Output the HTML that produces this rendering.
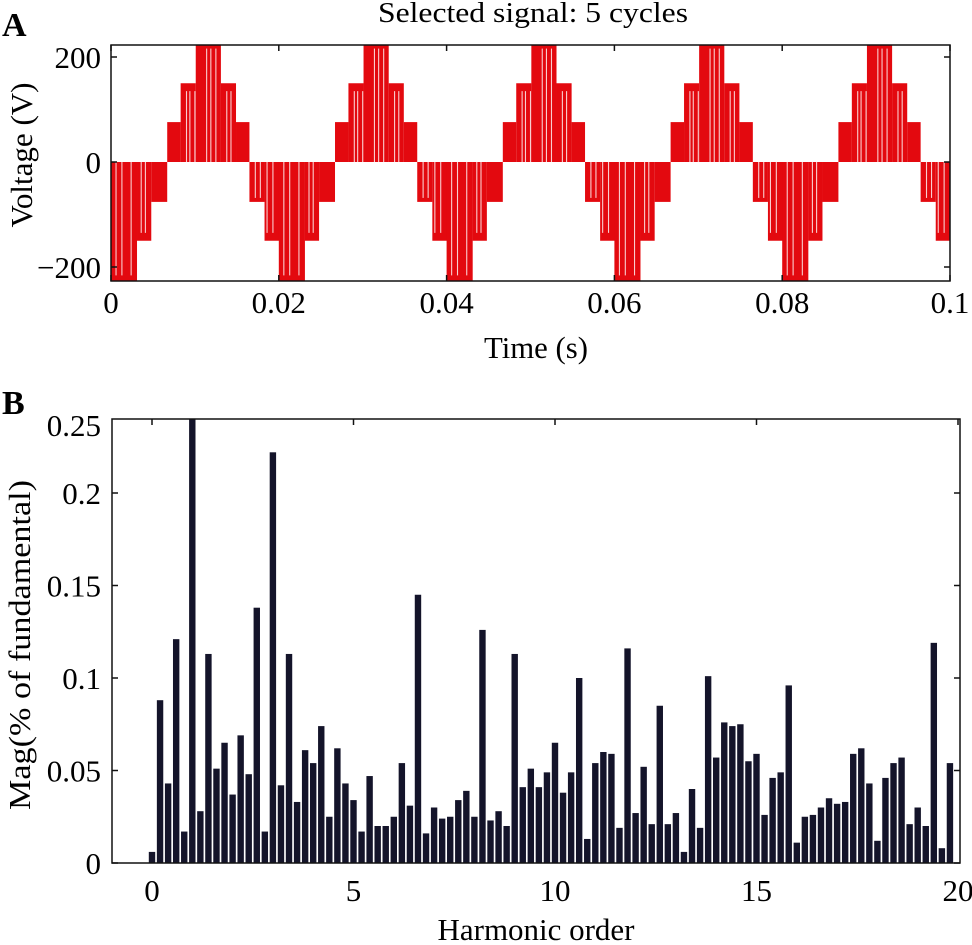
<!DOCTYPE html>
<html><head><meta charset="utf-8">
<style>
html,body{margin:0;padding:0;background:#fff;}
svg{display:block;font-family:"Liberation Serif",serif;}
</style></head>
<body>
<svg id="fig" width="972" height="945" viewBox="0 0 972 945" xmlns="http://www.w3.org/2000/svg">
  <text x="2" y="36" font-size="34" font-weight="bold">A</text>
  <text x="533" y="22" font-size="29" text-anchor="middle" textLength="310" lengthAdjust="spacingAndGlyphs">Selected signal: 5 cycles</text>
  <g id="pa"></g>
  <text x="536" y="358" font-size="31" text-anchor="middle" textLength="104" lengthAdjust="spacingAndGlyphs">Time (s)</text>
  <text transform="translate(32,155) rotate(-90)" font-size="31" text-anchor="middle" textLength="145" lengthAdjust="spacingAndGlyphs">Voltage (V)</text>

  <text x="2" y="414" font-size="34" font-weight="bold">B</text>
  <g id="pb"></g>
  <text x="536" y="940" font-size="31" text-anchor="middle" textLength="197" lengthAdjust="spacingAndGlyphs">Harmonic order</text>
  <text transform="translate(30,645) rotate(-90)" font-size="31" text-anchor="middle" textLength="330" lengthAdjust="spacingAndGlyphs">Mag(% of fundamental)</text>
</svg>
<script>
// ---------- Panel A data ----------
const cyclePeriod = 0.02;
const segStart = [0, 0.0031, 0.0048, 0.0067, 0.0083, 0.0101, 0.0131, 0.0149, 0.0165, 0.0183, 0.0202];
const segLevel = [-3, -2, -1, 1, 2, 3, 2, 1, -1, -2, -3];
const levelVolts = [0, 76, 150, 240];
const gapTimes = [0.0006, 0.0013, 0.0024, 0.0036, 0.0041, 0.0090, 0.0094, 0.0100, 0.0114, 0.0119, 0.0125, 0.0138, 0.0143, 0.0172, 0.0178, 0.0186, 0.0193, 0.0204, 0.0209, 0.0215, 0.0226, 0.0234];
const aTickX = [0, 0.02, 0.04, 0.06, 0.08, 0.1];
const aTickXLabels = ["0", "0.02", "0.04", "0.06", "0.08", "0.1"];
const aTickY = [200, 0, -200];
const aTickYLabels = ["200", "0", "\u2212200"];

// ---------- Panel B data ----------
const harmonicStep = 0.2;
const magnitudes = [0.006,0.088,0.043,0.121,0.017,0.25,0.028,0.113,0.051,0.065,
0.037,0.069,0.048,0.138,0.017,0.222,0.042,0.113,0.033,0.061,
0.054,0.074,0.025,0.062,0.043,0.034,0.017,0.047,0.020,0.020,
0.025,0.054,0.031,0.145,0.016,0.030,0.024,0.025,0.034,0.039,
0.025,0.126,0.023,0.028,0.020,0.113,0.041,0.051,0.041,0.049,
0.065,0.038,0.049,0.100,0.013,0.054,0.060,0.059,0.019,0.116,
0.027,0.052,0.021,0.085,0.021,0.027,0.006,0.040,0.019,0.101,
0.057,0.076,0.074,0.075,0.055,0.059,0.026,0.046,0.049,0.096,
0.011,0.025,0.026,0.030,0.035,0.032,0.033,0.059,0.062,0.043,
0.012,0.046,0.054,0.057,0.021,0.030,0.020,0.119,0.008,0.054];
const bTickX = [0, 5, 10, 15, 20];
const bTickY = [0, 0.05, 0.1, 0.15, 0.2];
const bTickYLabels = ["0", "0.05", "0.1", "0.15", "0.2"];

const NS = "http://www.w3.org/2000/svg";
function mk(tag, attrs, parent) {
  const e = document.createElementNS(NS, tag);
  for (const k in attrs) e.setAttribute(k, attrs[k]);
  parent.appendChild(e);
  return e;
}

// ---------- Panel A ----------
(function(){
  const g = document.getElementById('pa');
  const L = 111, R = 950, T = 45, B = 281;
  const xA = t => L + (t - 0) / 0.1 * (R - L);
  const yA = v => 162 - v * 0.525;
  const lv = n => Math.sign(n) * levelVolts[Math.abs(n)];
  const cp = mk('clipPath', {id: 'clipA'}, g);
  mk('rect', {x: L, y: T, width: R - L, height: B - T}, cp);
  const wave = mk('g', {'clip-path': 'url(#clipA)'}, g);
  
  
  for (let k = -1; k <= 5; k++) {
    for (let i = 0; i < segStart.length; i++) {
      const t0 = k * cyclePeriod + segStart[i];
      const t1 = i + 1 < segStart.length ? k * cyclePeriod + segStart[i + 1] : (k + 1) * cyclePeriod + segStart[1];
      const v = lv(segLevel[i]);
      const y0 = yA(0), y1 = yA(v);
      const r = mk('rect', {x: xA(t0), y: Math.min(y0, y1), width: xA(t1) - xA(t0), height: Math.abs(y1 - y0), fill: '#e3090f'}, wave);
      
      
    }
    for (const gt of gapTimes) {
      const t = k * cyclePeriod + gt;
      let lvl = 0;
      for (let i = 0; i < segStart.length; i++) if (gt >= segStart[i]) lvl = segLevel[i];
      const v = lv(lvl);
      const ln = mk('line', {x1: xA(t), x2: xA(t), y1: yA(0), y2: yA(v * 0.9), stroke: '#fff', 'stroke-width': 1.1, opacity: 0.8}, wave);
      
      
    }
  }
  const box = mk('rect', {x: L, y: T, width: R - L, height: B - T, fill: 'none', stroke: '#111', 'stroke-width': 1.5}, g);
  
  
  aTickX.forEach((t, i) => {
    const x = xA(t);
    mk('line', {x1: x, x2: x, y1: B, y2: B - 6, stroke: '#111', 'stroke-width': 1.5}, g);
    mk('line', {x1: x, x2: x, y1: T, y2: T + 6, stroke: '#111', 'stroke-width': 1.5}, g);
    const tx = mk('text', {x: x, y: 313, 'font-size': 31, 'text-anchor': 'middle'}, g);
    tx.textContent = aTickXLabels[i];
    
    
  });
  aTickY.forEach((v, i) => {
    const y = yA(v);
    mk('line', {x1: L, x2: L + 6, y1: y, y2: y, stroke: '#111', 'stroke-width': 1.5}, g);
    mk('line', {x1: R, x2: R - 6, y1: y, y2: y, stroke: '#111', 'stroke-width': 1.5}, g);
    const tx = mk('text', {x: 101, y: y + 11, 'font-size': 31, 'text-anchor': 'end'}, g);
    tx.textContent = aTickYLabels[i];
    
    
  });
})();

// ---------- Panel B ----------
(function(){
  const g = document.getElementById('pb');
  const L = 112, R = 960, T = 419, B = 863;
  const xB = h => 152 + h * 40.3;
  const yB = v => B - v * 1850;
  magnitudes.forEach((m, i) => {
    const h = i * harmonicStep;
    const top = Math.max(yB(m), T);
    const r = mk('rect', {x: xB(h) - 3.2, y: top, width: 6.4, height: B - top, fill: '#14142a'}, g);
    
    
  });
  const box = mk('rect', {x: L, y: T, width: R - L, height: B - T, fill: 'none', stroke: '#111', 'stroke-width': 1.5}, g);
  
  
  bTickX.forEach(h => {
    const x = xB(h);
    mk('line', {x1: x, x2: x, y1: T, y2: T + 6, stroke: '#111', 'stroke-width': 1.5}, g);
    const tx = mk('text', {x: x, y: 901, 'font-size': 31, 'text-anchor': 'middle'}, g);
    tx.textContent = String(h);
    
    
  });
  bTickY.forEach((v, i) => {
    const y = yB(v);
    mk('line', {x1: L, x2: L + 6, y1: y, y2: y, stroke: '#111', 'stroke-width': 1.5}, g);
    mk('line', {x1: R, x2: R - 6, y1: y, y2: y, stroke: '#111', 'stroke-width': 1.5}, g);
    const tx = mk('text', {x: 101, y: y + 11, 'font-size': 31, 'text-anchor': 'end'}, g);
    tx.textContent = bTickYLabels[i];
    
    
  });
  const top = mk('text', {x: 101, y: T + 17, 'font-size': 31, 'text-anchor': 'end'}, g);
  top.textContent = "0.25";
  
  
})();
</script>
</body></html>
